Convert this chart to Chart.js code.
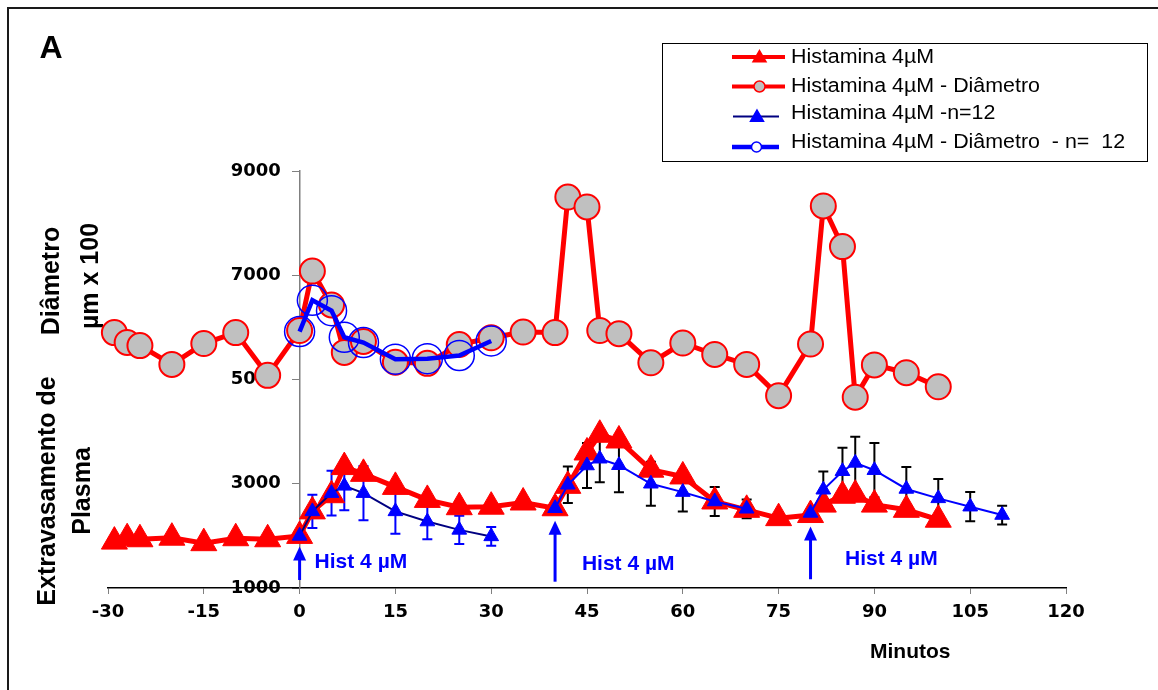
<!DOCTYPE html>
<html>
<head>
<meta charset="utf-8">
<script src="https://cdn.jsdelivr.net/npm/chart.js@4.4.1/dist/chart.umd.min.js"></script>
<style>
  body { margin: 0; background: #fff; }
  #wrap { position: relative; width: 1158px; height: 690px; }
</style>
</head>
<body>
<div id="wrap"><canvas id="myChart" width="1158" height="690"></canvas></div>
<script>
// tempo (minutos) e valores
const minutos = [-29, -27, -25, -20, -15, -10, -5, 0, 2, 5, 7, 10, 15, 20, 25, 30, 35, 40, 42, 45, 47, 50, 55, 60, 65, 70, 75, 80, 82, 85, 87, 90, 95, 100];
const histamina = [1890, 1955, 1935, 1965, 1860, 1955, 1935, 2000, 2470, 2780, 3320, 3190, 2940, 2690, 2550, 2560, 2640, 2530, 2960, 3600, 3940, 3830, 3270, 3140, 2660, 2500, 2340, 2400, 2600, 2770, 2790, 2600, 2500, 2310];
const diametro = [5900, 5710, 5650, 5290, 5690, 5900, 5080, 5940, 7080, 6430, 5520, 5730, 5330, 5310, 5670, 5800, 5910, 5900, 8500, 8310, 5940, 5880, 5320, 5700, 5480, 5290, 4690, 5680, 8330, 7550, 4660, 5280, 5130, 4860];

// n = 12, primeira aplicacao
const minutosN12 = [0, 2, 5, 7, 10, 15, 20, 25, 30];
const histaminaN12 = [2000, 2470, 2820, 2960, 2820, 2470, 2275, 2115, 1990];
const erroN12 = [0, 320, 430, 470, 520, 430, 340, 270, 180];
const diametroN12 = [5920, 6520, 6320, 5810, 5710, 5390, 5400, 5460, 5740];

// n = 12, segunda aplicacao
const minutosN12b = [40, 42, 45, 47, 50, 55, 60, 65, 70];
const histaminaN12b = [2530, 2980, 3350, 3480, 3355, 3000, 2840, 2660, 2520];
const erroN12b = [0, 350, 430, 450, 520, 420, 370, 280, 180];

// n = 12, terceira aplicacao
const minutosN12c = [80, 82, 85, 87, 90, 95, 100, 105, 110];
const histaminaN12c = [2440, 2885, 3240, 3400, 3260, 2900, 2720, 2560, 2400];
const erroN12c = [0, 350, 450, 500, 520, 420, 370, 280, 180];

// aplicacoes de histamina
const aplicacoes = [0, 40, 80];
const aplicacaoTexto = 'Hist 4 µM';

const xTicks = [-30, -15, 0, 15, 30, 45, 60, 75, 90, 105, 120];
const yTicks = [1000, 3000, 5000, 7000, 9000];

const pts = (xs, ys) => xs.map((x, i) => ({x: x, y: ys[i]}));

const RED = '#ff0000', BLUE = '#0000ff', NAVY = '#000080', GRAY = '#c0c0c0';

function wideText(ctx, txt, x, y, font, color, sx) {
    ctx.save();
    ctx.font = font;
    ctx.fillStyle = color;
    ctx.textAlign = 'left';
    ctx.textBaseline = 'middle';
    ctx.translate(x, y);
    ctx.scale(sx, 1);
    ctx.fillText(txt, 0, 0);
    ctx.restore();
}

function vText(ctx, txt, x, y) {
    ctx.save();
    ctx.translate(x, y);
    ctx.rotate(-Math.PI / 2);
    ctx.font = 'bold 25px "Liberation Sans", Arial, sans-serif';
    ctx.fillStyle = '#000';
    ctx.textAlign = 'center';
    ctx.textBaseline = 'alphabetic';
    ctx.fillText(txt, 0, 0);
    ctx.restore();
}

function tri(ctx, x, y, r) {
    ctx.beginPath();
    ctx.moveTo(x, y - r);
    ctx.lineTo(x + 0.866 * r, y + 0.5 * r);
    ctx.lineTo(x - 0.866 * r, y + 0.5 * r);
    ctx.closePath();
}

const extras = {
    id: 'extras',
    beforeDraw(chart) {
        const ctx = chart.ctx;
        ctx.save();
        ctx.fillStyle = '#fff';
        ctx.fillRect(0, 0, chart.width, chart.height);
        ctx.strokeStyle = '#1a1a1a';
        ctx.lineWidth = 2;
        ctx.beginPath();
        ctx.moveTo(8, 690);
        ctx.lineTo(8, 8);
        ctx.lineTo(1158, 8);
        ctx.stroke();
        ctx.font = 'bold 32px "Liberation Sans", Arial, sans-serif';
        ctx.fillStyle = '#000';
        ctx.textAlign = 'center';
        ctx.textBaseline = 'alphabetic';
        ctx.fillText('A', 51, 58);
        ctx.restore();
        vText(ctx, 'Diâmetro', 59, 281);
        vText(ctx, 'µm x 100', 98, 276);
        vText(ctx, 'Extravasamento de', 55, 491);
        vText(ctx, 'Plasma', 90, 491);
        wideText(ctx, 'Minutos', 870, 652, 'bold 21px "Liberation Sans", Arial, sans-serif', '#000', 1);
    },
    beforeDatasetsDraw(chart) {
        const ctx = chart.ctx, xs = chart.scales.x, ys = chart.scales.y;
        const sets = [[minutosN12, histaminaN12, erroN12, BLUE], [minutosN12b, histaminaN12b, erroN12b, '#000'], [minutosN12c, histaminaN12c, erroN12c, '#000']];
        ctx.save();
        ctx.lineWidth = 2;
        sets.forEach(([mx, my, me, col]) => {
            ctx.strokeStyle = col;
            mx.forEach((m, i) => {
                if (!me[i]) return;
                const x = xs.getPixelForValue(m);
                const y1 = ys.getPixelForValue(my[i] + me[i]);
                const y2 = ys.getPixelForValue(my[i] - me[i]);
                ctx.beginPath();
                ctx.moveTo(x, y1); ctx.lineTo(x, y2);
                ctx.moveTo(x - 5, y1); ctx.lineTo(x + 5, y1);
                ctx.moveTo(x - 5, y2); ctx.lineTo(x + 5, y2);
                ctx.stroke();
            });
        });
        ctx.restore();
    },
    afterDatasetsDraw(chart) {
        const ctx = chart.ctx, xs = chart.scales.x, ys = chart.scales.y;
        // arrow tip / base and label spot, in axis units
        const tips = [1795, 2289, 2179], bases = [1154, 1121, 1168];
        const lab = [[2.35, 1500], [44.2, 1460], [85.4, 1560]];
        ctx.save();
        ctx.strokeStyle = BLUE;
        ctx.fillStyle = BLUE;
        aplicacoes.forEach((m, i) => {
            const x = xs.getPixelForValue(m);
            const yt = ys.getPixelForValue(tips[i]);
            const yb = ys.getPixelForValue(bases[i]);
            ctx.lineWidth = 3;
            ctx.beginPath();
            ctx.moveTo(x, yb);
            ctx.lineTo(x, yt + 12);
            ctx.stroke();
            ctx.beginPath();
            ctx.moveTo(x, yt);
            ctx.lineTo(x + 6.5, yt + 14);
            ctx.lineTo(x - 6.5, yt + 14);
            ctx.closePath();
            ctx.fill();
            wideText(ctx, aplicacaoTexto, xs.getPixelForValue(lab[i][0]), ys.getPixelForValue(lab[i][1]),
                'bold 21px "Liberation Sans", Arial, sans-serif', BLUE, 1);
        });
        ctx.restore();
    },
    afterDraw(chart) {
        const ctx = chart.ctx, ds = chart.data.datasets;
        const byLabel = l => ds.find(d => d.label === l);
        ctx.save();
        ctx.strokeStyle = '#000';
        ctx.lineWidth = 1;
        ctx.strokeRect(662.5, 43.5, 485, 118);
        const rows = [
            {d: 'Histamina 4µM', ly: 57, ty: 57, x1: 732, x2: 785, lw: 4, mk: 'tri', r: 7.5},
            {d: 'Histamina 4µM - Diâmetro', ly: 86.5, ty: 86.5, x1: 732, x2: 785, lw: 4, mk: 'circ', r: 5.5},
            {d: 'Histamina 4µM -n=12', ly: 116.5, ty: 113, x1: 733, x2: 779, lw: 2, mk: 'tri', r: 7.5},
            {d: 'Histamina 4µM - Diâmetro  - n=  12', ly: 147, ty: 142, x1: 732, x2: 779, lw: 4.5, mk: 'circ', r: 5}
        ];
        rows.forEach(r => {
            const d = byLabel(r.d);
            const mx = (r.x1 + r.x2) / 2 + 1;
            ctx.strokeStyle = d.borderColor;
            ctx.lineWidth = r.lw;
            ctx.beginPath();
            ctx.moveTo(r.x1, r.ly);
            ctx.lineTo(r.x2, r.ly);
            ctx.stroke();
            if (r.mk === 'tri') {
                tri(ctx, mx, r.ly + 1, r.r);
            } else {
                ctx.beginPath();
                ctx.arc(mx, r.ly, r.r, 0, Math.PI * 2);
            }
            ctx.fillStyle = r.mk === 'circ' && d.pointBackgroundColor === 'rgba(0,0,0,0)' ? '#fff' : d.pointBackgroundColor;
            ctx.fill();
            ctx.strokeStyle = d.pointBorderColor;
            ctx.lineWidth = 1.5;
            ctx.stroke();
            wideText(ctx, d.label, 791, r.ty, '20px "Liberation Sans", Arial, sans-serif', '#000', 1.07);
        });
        ctx.restore();
    }
};

const tickFont = {family: '"DejaVu Sans", sans-serif', weight: 'bold', size: 18};

new Chart(document.getElementById('myChart'), {
    type: 'line',
    data: {
        datasets: [
            {
                label: 'Histamina 4µM - Diâmetro  - n=  12',
                data: pts(minutosN12, diametroN12),
                borderColor: BLUE, borderWidth: 4.5,
                pointStyle: 'circle', pointRadius: 15,
                pointBackgroundColor: 'rgba(0,0,0,0)', pointBorderColor: BLUE, pointBorderWidth: 1.5
            },
            {
                label: 'Histamina 4µM -n=12',
                data: pts(minutosN12, histaminaN12),
                borderColor: NAVY, borderWidth: 2,
                pointStyle: 'triangle', pointRadius: 8.5,
                pointBackgroundColor: BLUE, pointBorderColor: BLUE, pointBorderWidth: 1
            },
            {
                label: 'n12b',
                data: pts(minutosN12b, histaminaN12b),
                borderColor: BLUE, borderWidth: 2,
                pointStyle: 'triangle', pointRadius: 8.5,
                pointBackgroundColor: BLUE, pointBorderColor: BLUE, pointBorderWidth: 1
            },
            {
                label: 'n12c',
                data: pts(minutosN12c, histaminaN12c),
                borderColor: BLUE, borderWidth: 2,
                pointStyle: 'triangle', pointRadius: 8.5,
                pointBackgroundColor: BLUE, pointBorderColor: BLUE, pointBorderWidth: 1
            },
            {
                label: 'Histamina 4µM - Diâmetro',
                data: pts(minutos, diametro),
                borderColor: RED, borderWidth: 5,
                pointStyle: 'circle', pointRadius: 12.5,
                pointBackgroundColor: GRAY, pointBorderColor: RED, pointBorderWidth: 2
            },
            {
                label: 'Histamina 4µM',
                data: pts(minutos, histamina),
                borderColor: RED, borderWidth: 5,
                pointStyle: 'triangle', pointRadius: 15,
                pointBackgroundColor: RED, pointBorderColor: RED, pointBorderWidth: 1
            }
        ]
    },
    options: {
        responsive: false,
        devicePixelRatio: 1,
        animation: false,
        events: [],
        layout: {padding: {left: 108, right: 92, top: 171, bottom: 62}},
        elements: {line: {tension: 0}},
        datasets: {line: {clip: false}},
        plugins: {legend: {display: false}, tooltip: {enabled: false}},
        scales: {
            x: {
                type: 'linear',
                min: -30, max: 120,
                afterBuildTicks: s => { s.ticks = xTicks.map(v => ({value: v})); },
                afterFit: s => { s.height = 40; },
                ticks: {font: tickFont, color: '#000', padding: 8},
                grid: {drawOnChartArea: false, drawTicks: true, tickLength: 6, color: '#808080'},
                border: {display: true, color: '#000', width: 1.5}
            },
            y: {
                type: 'linear',
                position: {x: 0},
                min: 1000, max: 9000,
                afterBuildTicks: s => { s.ticks = yTicks.map(v => ({value: v})); },
                ticks: {font: tickFont, color: '#000', callback: v => v + '\u2007 '},
                grid: {drawOnChartArea: false, drawTicks: true, tickLength: 7, color: '#808080'},
                border: {display: true, color: '#808080', width: 1.5}
            }
        }
    },
    plugins: [extras]
});
</script>
</body>
</html>
